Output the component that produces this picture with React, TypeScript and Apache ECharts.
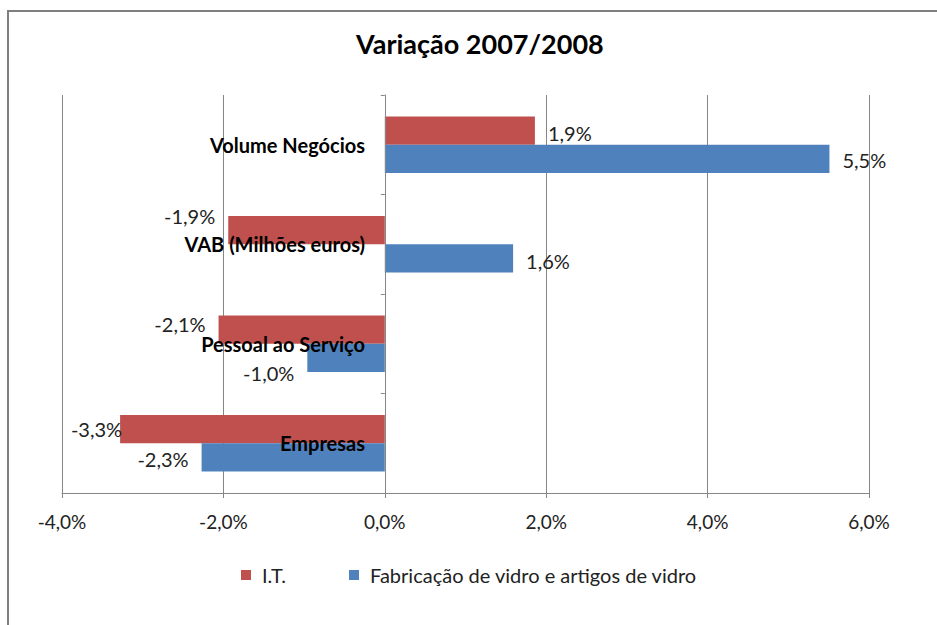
import React, { useEffect, useRef } from "react";
import * as echarts from "echarts";

const categories = ["Volume Negócios", "VAB (Milhões euros)", "Pessoal ao Serviço", "Empresas"];
const seriesNames = ["I.T.", "Fabricação de vidro e artigos de vidro"];
const itValues = [1.86, -1.94, -2.06, -3.28];
const vidroValues = [5.51, 1.59, -0.96, -2.27];
const xTicks = { min: -4, max: 6, interval: 2 };

// label nudges (style only), matching the reference's collision-avoided label positions
const itLabelOffsets: [number, number][] = [[0, 2], [0, -14], [0, -6], [15, 0]];
const vidroLabelOffsets: [number, number][] = [[0, 1], [0, 3], [0, 15], [0, 2]];

const FONT = "Lato, 'Open Sans', sans-serif";
const fmt = (v: number) => v.toFixed(1).replace(".", ",") + "%";

function buildData(values: number[], offsets: [number, number][]) {
  return values.map((v, i) => ({
    value: v,
    label: { position: v >= 0 ? "right" : "left", offset: offsets[i] },
  }));
}

export default function App() {
  const ref = useRef<HTMLDivElement>(null);
  useEffect(() => {
    if (!ref.current) return;
    const chart = echarts.init(ref.current, null, { renderer: "svg" });
    const labelCommon = {
      show: true,
      distance: 13,
      color: "#222",
      fontFamily: FONT,
      fontSize: 20,
      formatter: (p: any) => fmt(p.value),
    };
    chart.setOption({
      animation: false,
      backgroundColor: "#ffffff",
      textStyle: { fontFamily: FONT },
      title: {
        text: "Variação 2007/2008",
        left: 356,
        top: 30,
        padding: 0,
        textStyle: { fontFamily: FONT, fontSize: 27, fontWeight: "bold", color: "#000" },
      },
      legend: {
        left: 236,
        top: 560,
        icon: "rect",
        itemWidth: 10,
        itemHeight: 10,
        itemGap: 63,
        textStyle: { fontFamily: FONT, fontSize: 20, color: "#222", padding: [0, 0, 0, 6] },
        data: seriesNames,
      },
      grid: {
        left: 62,
        right: 68,
        top: 95,
        bottom: 132,
        containLabel: false,
        outerBoundsMode: "none",
      },
      xAxis: {
        type: "value",
        min: xTicks.min,
        max: xTicks.max,
        interval: xTicks.interval,
        axisLine: { show: true, onZero: false, lineStyle: { color: "#868686", width: 1 } },
        axisTick: { show: true, length: 5, lineStyle: { color: "#868686" } },
        splitLine: { show: true, lineStyle: { color: "#868686", width: 1 } },
        axisLabel: {
          formatter: (v: number) => fmt(v),
          color: "#222",
          fontFamily: FONT,
          fontSize: 19,
          margin: 19,
        },
      },
      yAxis: {
        type: "category",
        inverse: true,
        data: categories,
        z: 10,
        axisLine: { show: true, onZero: true, lineStyle: { color: "#868686" } },
        axisTick: { show: true, length: 4, lineStyle: { color: "#868686" } },
        splitLine: { show: false },
        axisLabel: {
          color: "#000",
          fontFamily: FONT,
          fontSize: 20,
          fontWeight: "bold",
          margin: -303,
        },
      },
      series: [
        {
          name: seriesNames[0],
          type: "bar",
          data: buildData(itValues, itLabelOffsets),
          itemStyle: { color: "#C0504D" },
          barGap: "0%",
          barCategoryGap: "43%",
          label: labelCommon,
          z: 2,
        },
        {
          name: seriesNames[1],
          type: "bar",
          data: buildData(vidroValues, vidroLabelOffsets),
          itemStyle: { color: "#4F81BD" },
          barGap: "0%",
          barCategoryGap: "43%",
          label: labelCommon,
          z: 2,
        },
      ],
      graphic: [
        {
          type: "rect",
          shape: { x: 8, y: 11, width: 1000, height: 1000 },
          style: { fill: "none", stroke: "#7f7f7f", lineWidth: 2 },
          silent: true,
          z: 100,
        },
      ],
    });
    return () => chart.dispose();
  }, []);
  return (
    <div
      ref={ref}
      style={{ position: "fixed", left: 0, top: 0, width: 937, height: 625 }}
    />
  );
}
